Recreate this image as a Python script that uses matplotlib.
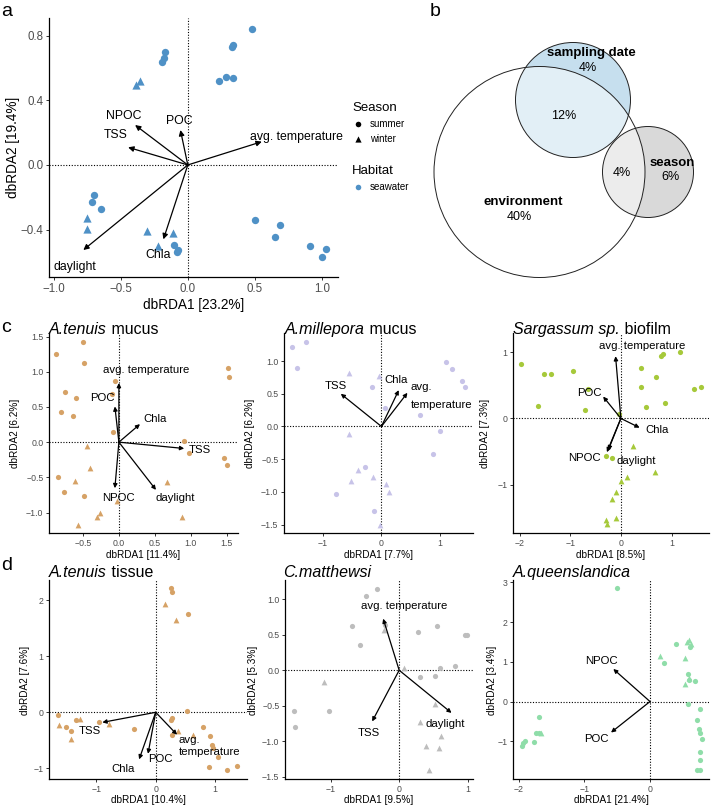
import matplotlib
matplotlib.use("Agg")
import matplotlib.pyplot as plt
from matplotlib.patches import Circle

plt.rcParams['font.family'] = ['Liberation Sans', 'DejaVu Sans']
plt.rcParams['axes.unicode_minus'] = True

# ---------------- DATA ----------------
# Panel a: seawater
a_sum_x = [0.478, 0.34, 0.33, 0.234, 0.284, 0.336, -0.169, -0.18, -0.194, -0.70, -0.714, -0.647,
           -0.102, -0.072, -0.08, 0.502, 0.689, 0.652, 0.913, 1.027, 1.0]
a_sum_y = [0.839, 0.74, 0.73, 0.522, 0.542, 0.536, 0.697, 0.66, 0.637, -0.186, -0.229, -0.272,
           -0.497, -0.526, -0.54, -0.338, -0.373, -0.443, -0.499, -0.52, -0.569]
a_win_x = [-0.356, -0.386, -0.754, -0.754, -0.303, -0.107, -0.221]
a_win_y = [0.52, 0.495, -0.33, -0.398, -0.406, -0.419, -0.499]
a_vec_names = ['NPOC', 'POC', 'TSS', 'avg. temperature', 'daylight', 'Chla']
a_vec_x = [-0.393, -0.055, -0.445, 0.552, -0.779, -0.182]
a_vec_y = [0.247, 0.216, 0.109, 0.144, -0.526, -0.46]

# Panel c1: A.tenuis mucus
c1_sum_x = [-0.50, -0.87, -0.485, -0.75, -0.60, -0.80, -0.64, -0.056, -0.093, -0.089, 1.52, 1.54,
            0.914, 0.984, 1.47, 1.50, -0.853, -0.765, -0.48]
c1_sum_y = [1.42, 1.25, 1.13, 0.71, 0.62, 0.43, 0.37, 0.87, 0.69, 0.14, 1.06, 0.92,
            0.02, -0.16, -0.22, -0.33, -0.50, -0.71, -0.76]
c1_win_x = [-0.44, -0.40, -0.61, -0.266, -0.31, -0.564, 0.676, 0.876, -0.02]
c1_win_y = [-0.05, -0.36, -0.55, -1.00, -1.06, -1.18, -0.57, -1.06, -0.83]
c1_vec_names = ['avg. temperature', 'POC', 'Chla', 'TSS', 'NPOC', 'daylight']
c1_vec_x = [0.0, -0.056, 0.294, 0.91, -0.056, 0.517]
c1_vec_y = [0.84, 0.507, 0.256, -0.09, -0.654, -0.678]

# Panel c2: A.millepora mucus
c2_sum_x = [-1.53, -1.30, -1.45, -0.154, 0.057, 0.66, 1.0, 0.886, 1.10, 1.21, 1.39, 1.43, -0.77, -0.286, -0.13]
c2_sum_y = [1.21, 1.29, 0.90, 0.60, 0.29, 0.18, -0.066, -0.42, 0.99, 0.88, 0.70, 0.60, -1.03, -0.62, -1.29]
c2_win_x = [-0.554, -0.04, -0.56, -0.40, -0.514, -0.137, 0.074, 0.131, -0.023]
c2_win_y = [0.82, 0.77, -0.12, -0.66, -0.84, -0.78, -0.88, -1.00, -1.50]
c2_vec_names = ['TSS', 'Chla', 'avg. temperature']
c2_vec_x = [-0.697, 0.297, 0.446]
c2_vec_y = [0.50, 0.556, 0.515]

# Panel c3: Sargassum sp. biofilm
c3_sum_x = [-1.97, -1.51, -1.37, -0.954, -1.63, -0.64, -0.70, -0.03, 0.39, 0.69, 0.39, 0.49, 0.875,
            0.80, 0.84, 1.16, 1.45, 1.58, -0.29, -0.17]
c3_sum_y = [0.82, 0.675, 0.675, 0.72, 0.19, 0.45, 0.13, 0.065, 0.76, 0.62, 0.47, 0.176, 0.24,
            0.95, 0.97, 1.01, 0.44, 0.47, -0.57, -0.59]
c3_win_x = [0.237, 0.125, 0.68, 0.0, -0.09, -0.18, -0.09, -0.30, -0.28]
c3_win_y = [-0.41, -0.88, -0.81, -0.95, -1.11, -1.22, -1.51, -1.53, -1.60]
c3_vec_names = ['avg. temperature', 'POC', 'Chla', 'NPOC', 'daylight']
c3_vec_x = [-0.105, -0.35, 0.37, -0.276, -0.25]
c3_vec_y = [0.94, 0.33, -0.14, -0.51, -0.48]

# Panel d1: A.tenuis tissue
d1_sum_x = [0.26, 0.28, 0.55, 0.52, -1.65, -1.34, -1.52, -1.43, -0.95, -0.37, 0.25, 0.28, 0.27, 0.79,
            0.91, 0.95, 0.97, 1.05, 0.90, 1.20, 1.37]
d1_sum_y = [2.21, 2.14, 1.76, 0.03, -0.05, -0.13, -0.27, -0.34, -0.18, -0.29, -0.13, -0.11, -0.41, -0.26,
            -0.43, -0.59, -0.63, -0.79, -0.98, -1.03, -0.95]
d1_win_x = [-1.63, -1.28, -1.43, -0.78, 0.15, 0.34, 0.38, 0.63]
d1_win_y = [-0.23, -0.12, -0.47, -0.21, 1.93, 1.64, -0.34, -0.40]
d1_vec_names = ['TSS', 'avg. temperature', 'POC', 'Chla']
d1_vec_x = [-0.90, 0.36, -0.13, -0.28]
d1_vec_y = [-0.18, -0.40, -0.74, -0.84]

# Panel d2: C.matthewsi
d2_sum_x = [-0.48, -0.32, -0.69, -0.58, -0.205, 0.28, 0.56, 0.97, 0.995, 0.595, 0.81, 0.307, 0.52,
            -1.54, -1.53, -1.03]
d2_sum_y = [1.04, 1.15, 0.62, 0.35, 0.63, 0.54, 0.62, 0.49, 0.50, 0.03, 0.056, -0.094, -0.084,
            -0.57, -0.80, -0.58]
d2_win_x = [-0.22, 0.073, -1.10, 0.517, 0.30, 0.61, 0.39, 0.576, 0.43]
d2_win_y = [0.56, 0.037, -0.17, -0.48, -0.73, -0.92, -1.07, -1.10, -1.40]
d2_vec_names = ['avg. temperature', 'TSS', 'daylight']
d2_vec_x = [-0.234, -0.395, 0.766]
d2_vec_y = [0.726, -0.72, -0.60]

# Panel d3: A.queenslandica
d3_sum_x = [-0.51, 0.39, 0.22, 0.585, 0.595, 0.687, 0.58, 0.77, 0.71, 0.75, 0.77, 0.79, 0.77, 0.76,
            0.72, 0.77, 0.605, -1.70, -1.74, -1.70, -1.77, -1.90, -1.94, -1.96]
d3_sum_y = [2.85, 1.46, 0.97, 0.69, 0.54, 0.51, -0.07, -0.18, -0.46, -0.68, -0.78, -0.94, -1.28, -1.46,
            -1.72, -1.73, 1.38, -0.39, -0.78, -0.79, -1.02, -1.00, -1.05, -1.11]
d3_win_x = [0.158, 0.53, 0.534, 0.59, 0.565, 0.62, 0.59, -1.67]
d3_win_y = [1.14, 1.10, 0.435, 1.56, 1.51, 1.46, 0.59, -0.78]
d3_vec_names = ['NPOC', 'POC']
d3_vec_x = [-0.56, -0.595]
d3_vec_y = [0.82, -0.78]

# Panel b: variance partitioning
venn_sets = ['environment', 'sampling date', 'season']
venn_unique = ['40%', '4%', '6%']
venn_env_date = '12%'
venn_env_season = '4%'

# axis labels
a_xlab, a_ylab = 'dbRDA1 [23.2%]', 'dbRDA2 [19.4%]'
c_xlabs = ['dbRDA1 [11.4%]', 'dbRDA1 [7.7%]', 'dbRDA1 [8.5%]']
c_ylabs = ['dbRDA2 [6.2%]', 'dbRDA2 [6.2%]', 'dbRDA2 [7.3%]']
d_xlabs = ['dbRDA1 [10.4%]', 'dbRDA1 [9.5%]', 'dbRDA1 [21.4%]']
d_ylabs = ['dbRDA2 [7.6%]', 'dbRDA2 [5.3%]', 'dbRDA2 [3.4%]']

# ---------------- LAYOUT ----------------
W, H = 711, 806
fig = plt.figure(figsize=(W / 100, H / 100), dpi=100)
renderer = fig.canvas.get_renderer()

COL = {'sea': '#4F91C6', 'ten': '#D6A266', 'mil': '#C7C3E8', 'sar': '#A6C93A',
       'mat': '#BDBDBD', 'que': '#8FDDA9'}


def px_axes(l, t, r, b):
    return fig.add_axes([l / W, 1 - b / H, (r - l) / W, (b - t) / H])


def fx(x):
    return x / W


def fy(y):
    return 1 - y / H


def fmt(v, dec):
    s = f'{v:.{dec}f}'
    return s.replace('-', '\u2212')


def style(ax, xlim, ylim, xt, yt, xdec, ydec, tsize):
    ax.set_xlim(*xlim)
    ax.set_ylim(*ylim)
    for s in ['top', 'right']:
        ax.spines[s].set_visible(False)
    for s in ['left', 'bottom']:
        ax.spines[s].set_linewidth(0.9)
        ax.spines[s].set_color('black')
    ax.set_xticks(xt)
    ax.set_xticklabels([fmt(v, xdec) for v in xt])
    ax.set_yticks(yt)
    ax.set_yticklabels([fmt(v, ydec) for v in yt])
    ax.tick_params(length=2.5, width=0.7, color='#333333', labelsize=tsize,
                   labelcolor='#4D4D4D', pad=1.5)
    ax.axhline(0, ls=(0, (1, 1.5)), color='black', lw=0.8, zorder=1)
    ax.axvline(0, ls=(0, (1, 1.5)), color='black', lw=0.8, zorder=1)


def points(ax, sx, sy, wx, wy, color, s):
    ax.scatter(sx, sy, s=s, marker='o', color=color, linewidths=0, zorder=2)
    ax.scatter(wx, wy, s=s * 1.25, marker='^', color=color, linewidths=0, zorder=2)


def arrows(ax, xs, ys, ms):
    for x, y in zip(xs, ys):
        ax.annotate('', xy=(x, y), xytext=(0, 0),
                    arrowprops=dict(arrowstyle='-|>', color='black', lw=0.9,
                                    mutation_scale=ms, shrinkA=0, shrinkB=0), zorder=3)


def labels(ax, names, pos, size, skip=()):
    for n in names:
        if n in skip:
            continue
        x, y = pos[n]
        ax.text(x, y, n, ha='center', va='center', fontsize=size, color='black', zorder=4)


def title(x_px, base_px, ital, rest, size=11.5):
    t = fig.text(fx(x_px), fy(base_px), ital, style='italic', fontsize=size, va='baseline', ha='left')
    if rest:
        bb = t.get_window_extent(renderer)
        fig.text(bb.x1 / W, fy(base_px), rest, fontsize=size, va='baseline', ha='left')


# ---- panel a ----
axa = px_axes(49, 18, 338, 277)
style(axa, (-1.035, 1.12), (-0.693, 0.909), [-1, -0.5, 0, 0.5, 1], [-0.4, 0, 0.4, 0.8], 1, 1, 8.3)
points(axa, a_sum_x, a_sum_y, a_win_x, a_win_y, COL['sea'], 28)
arrows(axa, a_vec_x, a_vec_y, 8)
a_lab_pos = {'NPOC': (-0.48, 0.303), 'POC': (-0.065, 0.274), 'TSS': (-0.54, 0.186),
             'avg. temperature': (0.81, 0.175), 'daylight': (-0.84, -0.629), 'Chla': (-0.22, -0.557)}
labels(axa, a_vec_names, a_lab_pos, 8.8)
fig.text(fx(193.5), fy(305), a_xlab, ha='center', va='center', fontsize=9.8)
fig.text(fx(13), fy(147), a_ylab, ha='center', va='center', rotation=90, fontsize=9.8)

# legend for a
fig.text(fx(352), fy(108), 'Season', ha='left', va='center', fontsize=9.5)
fig.text(fx(370), fy(124), 'summer', ha='left', va='center', fontsize=7)
fig.text(fx(370), fy(139), 'winter', ha='left', va='center', fontsize=7)
fig.text(fx(352), fy(171), 'Habitat', ha='left', va='center', fontsize=9.5)
fig.text(fx(370), fy(187), 'seawater', ha='left', va='center', fontsize=7)
axl = px_axes(350, 115, 366, 195)
axl.set_xlim(350, 366)
axl.set_ylim(195, 115)
axl.axis('off')
axl.scatter([358], [124], s=16, marker='o', color='black', linewidths=0)
axl.scatter([358], [139], s=20, marker='^', color='black', linewidths=0)
axl.scatter([358], [187], s=16, marker='o', color=COL['sea'], linewidths=0)

# ---- panel b (Venn) ----
axb = px_axes(400, 20, 711, 300)
axb.set_xlim(400, 711)
axb.set_ylim(300, 20)
axb.axis('off')
env_c, env_r = (539.5, 172.0), 105.5
date_c, date_r = (573.0, 100.0), 57.5
seas_c, seas_r = (648.0, 172.0), 45.5
axb.add_patch(Circle(date_c, date_r, facecolor='#C6DFEE', edgecolor='none', zorder=1))
axb.add_patch(Circle(seas_c, seas_r, facecolor='#D9D9D9', edgecolor='none', zorder=1))
axb.add_patch(Circle(env_c, env_r, facecolor='white', alpha=0.5, edgecolor='none', zorder=2))
for c, r in [(env_c, env_r), (date_c, date_r), (seas_c, seas_r)]:
    axb.add_patch(Circle(c, r, facecolor='none', edgecolor='#222222', lw=0.7, zorder=3))
axb.text(591, 53, venn_sets[1], ha='center', va='center', fontsize=9.5, fontweight='bold', zorder=4)
axb.text(588, 68, venn_unique[1], ha='center', va='center', fontsize=9, zorder=4)
axb.text(564, 116, venn_env_date, ha='center', va='center', fontsize=9, zorder=4)
axb.text(622, 173, venn_env_season, ha='center', va='center', fontsize=9, zorder=4)
axb.text(672, 163, venn_sets[2], ha='center', va='center', fontsize=9.5, fontweight='bold', zorder=4)
axb.text(671, 177, venn_unique[2], ha='center', va='center', fontsize=9, zorder=4)
axb.text(523, 202, venn_sets[0], ha='center', va='center', fontsize=9.5, fontweight='bold', zorder=4)
axb.text(519, 217, venn_unique[0], ha='center', va='center', fontsize=9, zorder=4)

# panel letters
for letter, x, y in [('a', 7, 11), ('b', 435, 11), ('c', 6, 327), ('d', 7, 566)]:
    fig.text(fx(x), fy(y), letter, ha='center', va='center', fontsize=14)

PS = 14
TS = 6.3
LS = 8.2
XS = 7.2

# ---- c1 ----
ax = px_axes(49, 333, 238, 533)
style(ax, (-0.974, 1.66), (-1.29, 1.55), [-0.5, 0, 0.5, 1, 1.5], [-1, -0.5, 0, 0.5, 1, 1.5], 1, 1, TS)
points(ax, c1_sum_x, c1_sum_y, c1_win_x, c1_win_y, COL['ten'], PS)
arrows(ax, c1_vec_x, c1_vec_y, 6)
labels(ax, c1_vec_names, {'avg. temperature': (0.387, 1.02), 'POC': (-0.228, 0.62), 'Chla': (0.508, 0.327),
                          'TSS': (1.13, -0.109), 'NPOC': (-0.01, -0.787), 'daylight': (0.79, -0.80)}, LS)
title(49, 334, 'A.tenuis', ' mucus')
fig.text(fx(143.5), fy(555), c_xlabs[0], ha='center', va='center', fontsize=XS)
fig.text(fx(15), fy(433), c_ylabs[0], ha='center', va='center', rotation=90, fontsize=XS)

# ---- c2 ----
ax = px_axes(284, 333, 473, 533)
style(ax, (-1.67, 1.57), (-1.63, 1.43), [-1, 0, 1], [-1.5, -1, -0.5, 0, 0.5, 1.0], 0, 1, TS)
points(ax, c2_sum_x, c2_sum_y, c2_win_x, c2_win_y, COL['mil'], PS)
arrows(ax, c2_vec_x, c2_vec_y, 6)
labels(ax, c2_vec_names, {'TSS': (-0.79, 0.62), 'Chla': (0.246, 0.71)}, LS, skip=('avg. temperature',))
ax.text(0.497, 0.597, 'avg.', ha='left', va='center', fontsize=LS)
ax.text(0.497, 0.33, 'temperature', ha='left', va='center', fontsize=LS)
title(285, 334, 'A.millepora', ' mucus')
fig.text(fx(378.5), fy(555), c_xlabs[1], ha='center', va='center', fontsize=XS)
fig.text(fx(250), fy(433), c_ylabs[1], ha='center', va='center', rotation=90, fontsize=XS)

# ---- c3 ----
ax = px_axes(513, 333, 709, 533)
style(ax, (-2.13, 1.74), (-1.73, 1.29), [-2, -1, 0, 1], [-1, 0, 1], 0, 0, TS)
points(ax, c3_sum_x, c3_sum_y, c3_win_x, c3_win_y, COL['sar'], PS)
arrows(ax, c3_vec_x, c3_vec_y, 6)
labels(ax, c3_vec_names, {'avg. temperature': (0.43, 1.09), 'POC': (-0.62, 0.39), 'Chla': (0.71, -0.17),
                          'NPOC': (-0.72, -0.60), 'daylight': (0.30, -0.645)}, LS)
title(513, 334, 'Sargassum sp.', ' biofilm')
fig.text(fx(611), fy(555), c_xlabs[2], ha='center', va='center', fontsize=XS)
fig.text(fx(485), fy(433), c_ylabs[2], ha='center', va='center', rotation=90, fontsize=XS)

# ---- d1 ----
ax = px_axes(49, 580, 247, 779)
style(ax, (-1.80, 1.54), (-1.19, 2.36), [-1, 0, 1], [-1, 0, 1, 2], 0, 0, TS)
points(ax, d1_sum_x, d1_sum_y, d1_win_x, d1_win_y, COL['ten'], PS)
arrows(ax, d1_vec_x, d1_vec_y, 6)
labels(ax, d1_vec_names, {'TSS': (-1.11, -0.34), 'POC': (0.08, -0.84), 'Chla': (-0.55, -1.01)}, LS,
       skip=('avg. temperature',))
ax.text(0.39, -0.487, 'avg.', ha='left', va='center', fontsize=LS)
ax.text(0.39, -0.71, 'temperature', ha='left', va='center', fontsize=LS)
title(49, 577, 'A.tenuis', ' tissue')
fig.text(fx(148), fy(800), d_xlabs[0], ha='center', va='center', fontsize=XS)
fig.text(fx(25), fy(680), d_ylabs[0], ha='center', va='center', rotation=90, fontsize=XS)

# ---- d2 ----
ax = px_axes(285, 580, 473, 779)
style(ax, (-1.67, 1.08), (-1.53, 1.27), [-1, 0, 1], [-1.5, -1, -0.5, 0, 0.5, 1.0], 0, 1, TS)
points(ax, d2_sum_x, d2_sum_y, d2_win_x, d2_win_y, COL['mat'], PS)
arrows(ax, d2_vec_x, d2_vec_y, 6)
labels(ax, d2_vec_names, {'avg. temperature': (0.07, 0.90), 'TSS': (-0.45, -0.876),
                          'daylight': (0.68, -0.75)}, LS)
title(283, 577, 'C.matthewsi', '')
fig.text(fx(379), fy(800), d_xlabs[1], ha='center', va='center', fontsize=XS)
fig.text(fx(253), fy(680), d_ylabs[1], ha='center', va='center', rotation=90, fontsize=XS)

# ---- d3 ----
ax = px_axes(513, 580, 709, 779)
style(ax, (-2.09, 0.90), (-1.95, 3.06), [-2, -1, 0], [-1, 0, 1, 2, 3], 0, 0, TS)
points(ax, d3_sum_x, d3_sum_y, d3_win_x, d3_win_y, COL['que'], PS)
arrows(ax, d3_vec_x, d3_vec_y, 6)
labels(ax, d3_vec_names, {'NPOC': (-0.74, 1.01), 'POC': (-0.82, -0.94)}, LS)
title(513, 577, 'A.queenslandica', '')
fig.text(fx(611), fy(800), d_xlabs[2], ha='center', va='center', fontsize=XS)
fig.text(fx(492), fy(680), d_ylabs[2], ha='center', va='center', rotation=90, fontsize=XS)

fig.savefig('out.png', dpi=100)
